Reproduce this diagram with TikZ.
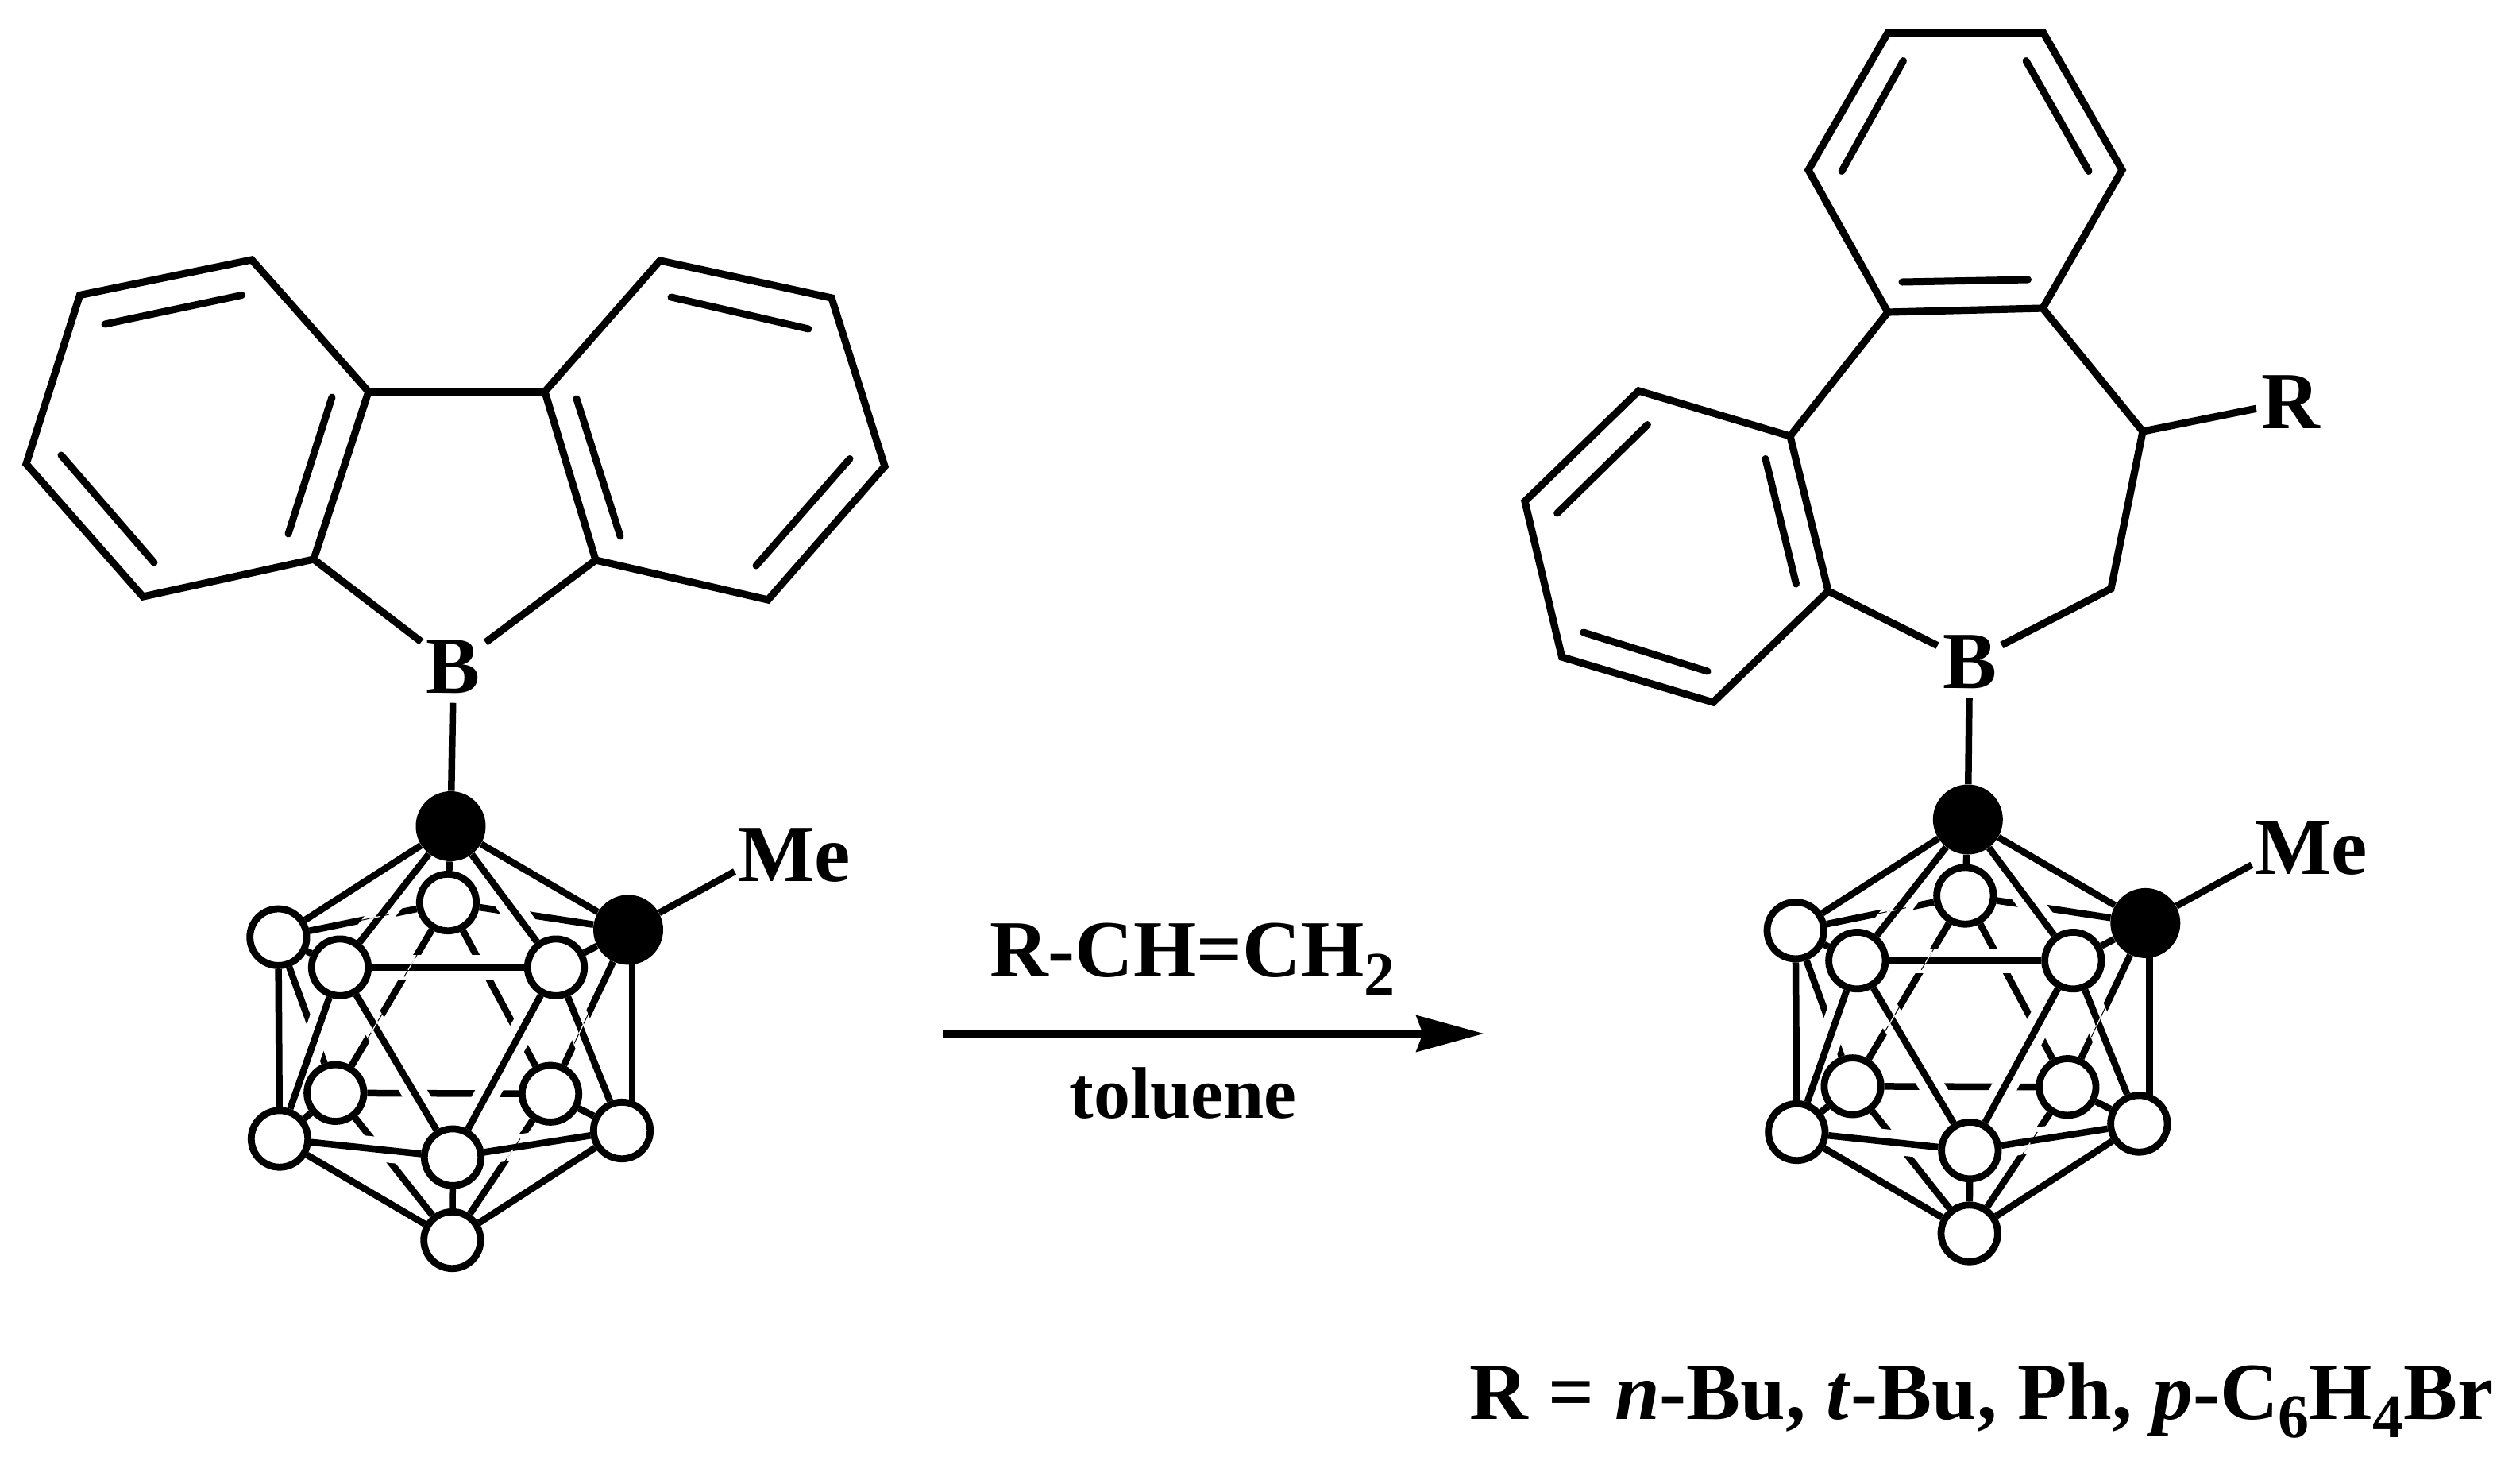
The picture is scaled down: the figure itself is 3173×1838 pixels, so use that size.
\documentclass[tikz,border=0pt]{standalone}
\usepackage{fontspec}
\setmainfont{Liberation Serif}
\usetikzlibrary{calc,arrows.meta}
\pgfdeclarelayer{backb}\pgfdeclarelayer{halob}\pgfdeclarelayer{frontb}\pgfdeclarelayer{hairb}
\pgfsetlayers{backb,halob,frontb,hairb,main}
\tikzset{
  bond/.style={line width=4.25pt,line cap=butt,line join=miter,black},
  ring/.style={line width=4.6pt,line cap=butt,line join=miter,black},
  inbond/.style={line width=4.5pt,line cap=round,black},
  halo/.style={line width=15.5pt,white},
  hairk/.style={line width=.5pt,black},
  hairw/.style={line width=.6pt,white},
  vtx/.style={circle,draw=black,fill=white,line width=4.4pt,minimum size=35.7pt,inner sep=0pt},
  cvtx/.style={circle,fill=black,minimum size=44pt,inner sep=0pt},
  lab/.style={font=\fontsize{51}{51}\selectfont\bfseries,inner sep=0pt,anchor=base},
  atomlab/.style={lab,inner xsep=3pt,inner ysep=6pt},
}
\newcommand{\subsc}[1]{{\fontsize{39}{39}\selectfont\raisebox{-11.5pt}{#1}}}
\newcommand{\hairgap}[4]{%
  \draw[hairk] ($(#1)!#3!(#2)$) -- ($(#1)!#4!(#2)$);
  \draw[hairw] ($(#1)!#3/2+#4/2-.03!(#2)$) -- ($(#1)!#3/2+#4/2+.03!(#2)$);}
\newcommand{\carbcage}{%
  \node[cvtx] (ct) at (567.5,1040) {};
  \node[cvtx] (cr) at (791,1170.4) {};
  \node[vtx] (la) at (350.4,1179.7) {};
  \node[vtx] (ul) at (428,1217.6) {};
  \node[vtx] (tb) at (564,1136) {};
  \node[vtx] (ur) at (700,1217.6) {};
  \node[vtx] (bl) at (422.3,1375.8) {};
  \node[vtx] (br) at (693,1376.7) {};
  \node[vtx] (lb) at (352,1433.5) {};
  \node[vtx] (bf) at (570,1456.6) {};
  \node[vtx] (rb) at (783,1423) {};
  \node[vtx] (bo) at (569.4,1561) {};
  \coordinate (meb) at (925,1097);
  \begin{pgfonlayer}{backb}
    \foreach \a/\b in {la/tb,tb/cr,tb/bl,tb/br,la/bl,cr/br,bl/br,bl/lb,br/rb,bl/bo,br/bo}
      \draw[bond] (\a) -- (\b);
  \end{pgfonlayer}
  \begin{pgfonlayer}{halob}
    \foreach \a/\b in {ct/ul,ct/ur,ul/ur,ul/bf,ur/bf,ul/lb,ur/rb,lb/bf,bf/rb}
      \draw[halo] (\a) -- (\b);
  \end{pgfonlayer}
  \begin{pgfonlayer}{frontb}
    \foreach \a/\b in {ct/la,ct/ul,ct/tb,ct/ur,ct/cr,la/ul,la/lb,ul/lb,ul/ur,ul/bf,ur/bf,ur/cr,ur/rb,lb/bf,bf/rb,bf/bo,lb/bo,rb/bo}
      \draw[bond] (\a) -- (\b);
    \draw[bond] ($(cr)+(5,0)$) -- ($(rb)+(13,0)$);
    \draw[bond] (cr) -- (meb);
  \end{pgfonlayer}
  \begin{pgfonlayer}{hairb}
    \hairgap{tb}{bl}{.258}{.389}
    \hairgap{tb}{bl}{.582}{.723}
    \hairgap{la}{tb}{.485}{.652}
    \hairgap{cr}{br}{.51}{.694}
    \hairgap{br}{bo}{.308}{.514}
  \end{pgfonlayer}
  \node[lab] (me) at (1000,1109) {Me};
}
\begin{document}
\begin{tikzpicture}[x=.5pt,y=-.5pt]
\useasboundingbox (0,0) rectangle (3173,1838);
% ---------- left molecule ----------
\foreach \n/\x/\y in {a1/317/327,a2/100.5/371.5,a3/33/584,a4/180/751,a5/395/704,a6/464/493,
  b1/686/493,b2/831/328,b3/1047/375,b4/1114/587,b5/967/755,b6/750/705}
  \coordinate (\n) at (\x,\y);
\node[atomlab] (bl1) at (571,872) {B};
\draw[ring] (a6) -- (a1) -- (a2) -- (a3) -- (a4) -- (a5) -- cycle;
\draw[ring] (b1) -- (b2) -- (b3) -- (b4) -- (b5) -- (b6) -- cycle;
\draw[ring] (a6) -- (b1);
\draw[ring] (a5) -- (bl1);
\draw[ring] (b6) -- (bl1);
\draw[inbond] (304.5,371.5) -- (132,408);
\draw[inbond] (77,573) -- (194,708);
\draw[inbond] (418,500) -- (363,672);
\draw[inbond] (845,374) -- (1018,414);
\draw[inbond] (1070,577.5) -- (952,712);
\draw[inbond] (726,502) -- (781,675);
\begin{scope}[name prefix=L-]
\carbcage
\end{scope}
\begin{pgfonlayer}{frontb}
\draw[bond] (bl1) -- (L-ct);
\end{pgfonlayer}
% ---------- right molecule ----------
\foreach \n/\x/\y in {c1/2376.7/41.6,c2/2573/41.6,c3/2672/214,c4/2572/388,c5/2377/393,c6/2277/214,
  d1/2254/549,d2/2063.4/492,d3/1920/631,d4/1966.6/827,d5/2157/884,d6/2302/744,
  e1/2698/543,e2/2658/741}
  \coordinate (\n) at (\x,\y);
\node[atomlab] (bl2) at (2480,866) {B};
\node[atomlab] (rl) at (2884,539) {R};
\draw[ring] (c1) -- (c2) -- (c3) -- (c4) -- (c5) -- (c6) -- cycle;
\draw[ring] (d1) -- (d2) -- (d3) -- (d4) -- (d5) -- (d6) -- cycle;
\draw[ring] (c5) -- (d1);
\draw[ring] (c4) -- (e1) -- (e2) -- (bl2);
\draw[ring] (d6) -- (bl2);
\draw[ring] (e1) -- (rl);
\draw[inbond] (2396.5,76.5) -- (2319,215.5);
\draw[inbond] (2551,76.5) -- (2630,215.5);
\draw[inbond] (2395,355) -- (2553.5,352);
\draw[inbond] (2074.4,534.6) -- (1960.7,646);
\draw[inbond] (1993.7,796) -- (2150,845);
\draw[inbond] (2223,577.5) -- (2261.5,735);
\begin{scope}[shift={(1910.3,-8.5)},name prefix=R-]
\carbcage
\end{scope}
\begin{pgfonlayer}{frontb}
\draw[bond] (bl2) -- (R-ct);
\end{pgfonlayer}
% ---------- reaction arrow ----------
\coordinate (ars) at (1187,1301);
\coordinate (are) at (1868,1301);
\draw[line width=5pt,-{Stealth[length=42.75pt,width=23.5pt,inset=4.5pt,line width=0pt]}] (ars) -- (are);
\node[lab,anchor=base west] (reag) at (1245.7,1229) {R-CH=CH\subsc{2}};
\node[lab,anchor=base west,font=\fontsize{46}{46}\selectfont\bfseries] (solv) at (1346,1407) {toluene};
\node[lab,anchor=base west] (rdef) at (1850,1786) {R = \textit{n}-Bu, \textit{t}-Bu, Ph, \textit{p}-C\subsc{6}H\subsc{4}Br};
\end{tikzpicture}
\end{document}
